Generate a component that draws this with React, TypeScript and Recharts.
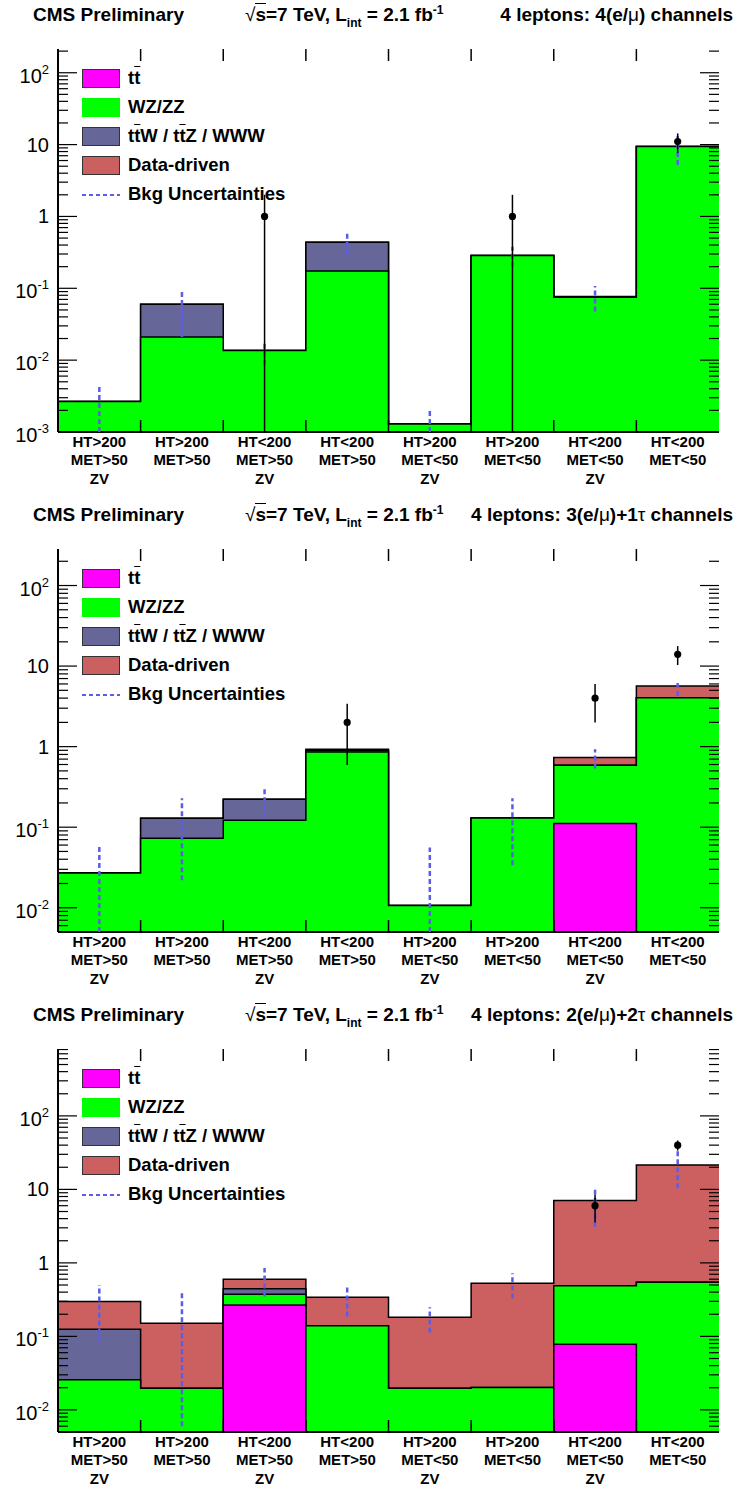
import { ComposedChart, Area, Scatter, XAxis, YAxis, Legend } from 'recharts';

const FONT = '"Liberation Sans", Arial, Helvetica, sans-serif';
const BLUE = '#5c5ce6';
const COLORS = { tt: '#ff00ff', wz: '#00ff00', ttw: '#666699', dd: '#cc6060' };
const FLOOR = 1e-9;

const binLabels = [
  ['HT>200', 'MET>50', 'ZV'],
  ['HT>200', 'MET>50'],
  ['HT<200', 'MET>50', 'ZV'],
  ['HT<200', 'MET>50'],
  ['HT>200', 'MET<50', 'ZV'],
  ['HT>200', 'MET<50'],
  ['HT<200', 'MET<50', 'ZV'],
  ['HT<200', 'MET<50'],
];

// 4(e/mu)
const ttbar4l = [0, 0, 0, 0, 0, 0, 0, 0];
const wz4l = [0.00265, 0.021, 0.0136, 0.174, 0.00129, 0.285, 0.075, 9.4];
const ttw4l = [0, 0.039, 0, 0.262, 0, 0, 0, 0];
const dd4l = [0, 0, 0, 0, 0, 0, 0.002, 0];
const uncLo4l = [0.0008, 0.021, 0.0086, 0.294, 0.0009, 0.2, 0.0475, 5.2];
const uncHi4l = [0.0044, 0.095, 0.018, 0.577, 0.002, 0.38, 0.108, 13.8];
const obs4l = [null, null, 1, null, null, 1, null, 11];
const obsLo4l = [null, null, 0, null, null, 0, null, 7.7];
const obsHi4l = [null, null, 2, null, null, 2, null, 14.3];

// 3(e/mu)+1tau
const ttbar3l = [0, 0, 0, 0, 0, 0, 0.111, 0];
const wz3l = [0.027, 0.073, 0.122, 0.855, 0.0107, 0.13, 0.478, 4.04];
const ttw3l = [0, 0.056, 0.101, 0.04, 0, 0, 0, 0];
const dd3l = [0, 0, 0, 0.035, 0, 0, 0.145, 1.6];
const uncLo3l = [0.004, 0.022, 0.129, null, 0.004, 0.0337, 0.536, 4.24];
const uncHi3l = [0.062, 0.229, 0.323, null, 0.056, 0.229, 0.93, 6.57];
const obs3l = [null, null, null, 2, null, null, 4, 14];
const obsLo3l = [null, null, null, 0.59, null, null, 2, 10.3];
const obsHi3l = [null, null, null, 3.41, null, null, 6, 17.7];

// 2(e/mu)+2tau
const ttbar2l = [0, 0, 0.268, 0, 0, 0, 0.078, 0];
const wz2l = [0.0256, 0.0197, 0.107, 0.139, 0.0197, 0.0201, 0.412, 0.546];
const ttw2l = [0.099, 0, 0.068, 0, 0, 0, 0, 0];
const dd2l = [0.173, 0.131, 0.157, 0.202, 0.162, 0.51, 6.55, 20.95];
const uncLo2l = [0.085, 0.006, 0.35, 0.186, 0.113, 0.33, 3.1, 10.4];
const uncHi2l = [0.5, 0.39, 0.85, 0.49, 0.25, 0.72, 10.9, 38.5];
const obs2l = [null, null, null, null, null, null, 6, 40];
const obsLo2l = [null, null, null, null, null, null, 3.55, 33.7];
const obsHi2l = [null, null, null, null, null, null, 8.45, 46.3];

const panels = [
  { chan: <>4(e/<Mu />) channels</>, yMin: 0.001, yMax: 214, tt: ttbar4l, wz: wz4l, ttw: ttw4l, dd: dd4l,
    uncLo: uncLo4l, uncHi: uncHi4l, obs: obs4l, obsLo: obsLo4l, obsHi: obsHi4l },
  { chan: <>3(e/<Mu />)+1<Tau /> channels</>, yMin: 0.005, yMax: 284, tt: ttbar3l, wz: wz3l, ttw: ttw3l, dd: dd3l,
    uncLo: uncLo3l, uncHi: uncHi3l, obs: obs3l, obsLo: obsLo3l, obsHi: obsHi3l },
  { chan: <>2(e/<Mu />)+2<Tau /> channels</>, yMin: 0.005, yMax: 813, tt: ttbar2l, wz: wz2l, ttw: ttw2l, dd: dd2l,
    uncLo: uncLo2l, uncHi: uncHi2l, obs: obs2l, obsLo: obsLo2l, obsHi: obsHi2l },
];

function Mu() {
  return <span style={{ fontWeight: 'normal' }}>μ</span>;
}
function Tau() {
  return <span style={{ fontWeight: 'normal' }}>τ</span>;
}
function Tbar() {
  return <span style={{ textDecoration: 'overline' }}>t</span>;
}

function YLabel({ x, y, payload }: any) {
  const e = Math.round(Math.log10(payload.value));
  if (e === 0 || e === 1) {
    return (
      <text x={x} y={y + 7} textAnchor="end" fontFamily={FONT} fontSize={20} fill="#000">
        {e === 0 ? '1' : '10'}
      </text>
    );
  }
  return (
    <text x={x} y={y + 10} textAnchor="end" fontFamily={FONT} fontSize={20} fill="#000">
      10<tspan dy={-9} fontSize={13}>{e}</tspan>
    </text>
  );
}

function XLabel({ x, y, payload }: any) {
  const lines = binLabels[Math.floor(payload.value)] || [];
  return (
    <g>
      {lines.map((t, i) => (
        <text key={i} x={x} y={y + 9 + i * 18.5} textAnchor="middle" dominantBaseline="central"
          fontFamily={FONT} fontWeight="bold" fontSize={15} fill="#000">{t}</text>
      ))}
    </g>
  );
}

const legendRows = [
  { key: 'tt', label: <>t<Tbar /></>, color: COLORS.tt, border: true },
  { key: 'wz', label: <>WZ/ZZ</>, color: COLORS.wz, border: false },
  { key: 'ttw', label: <>t<Tbar />W / t<Tbar />Z / WWW</>, color: COLORS.ttw, border: true },
  { key: 'dd', label: <>Data-driven</>, color: COLORS.dd, border: true },
  { key: 'unc', label: <>Bkg Uncertainties</>, color: null, border: false },
];

function LegendBody() {
  return (
    <div style={{ fontFamily: FONT, fontWeight: 'bold', fontSize: 18.5, color: '#000' }}>
      {legendRows.map(r => (
        <div key={r.key} style={{ display: 'flex', alignItems: 'center', height: 29 }}>
          {r.color ? (
            <div style={{ width: 38, height: 19, boxSizing: 'border-box', background: r.color,
              border: r.border ? '1px solid #333' : 'none' }} />
          ) : (
            <svg width={38} height={4}>
              <line x1={0} x2={38} y1={2} y2={2} stroke={BLUE} strokeWidth={2} strokeDasharray="4 3" />
            </svg>
          )}
          <span style={{ marginLeft: 8, lineHeight: 1 }}>{r.label}</span>
        </div>
      ))}
    </div>
  );
}

function logTicks(yMin: number, yMax: number) {
  const out: { y: number; major: boolean }[] = [];
  for (let d = Math.floor(Math.log10(yMin)); d <= Math.ceil(Math.log10(yMax)); d++) {
    for (let m = 1; m <= 9; m++) {
      const v = m * Math.pow(10, d);
      if (v >= yMin * 0.999 && v <= yMax * 1.001) out.push({ y: v, major: m === 1 });
    }
  }
  return out;
}

const none = () => <g />;

function Panel({ p, index }: any) {
  const { yMin, yMax } = p;
  const c0 = p.tt.map((v: number) => v);
  const c1 = c0.map((v: number, i: number) => v + p.wz[i]);
  const c2 = c1.map((v: number, i: number) => v + p.ttw[i]);
  const c3 = c2.map((v: number, i: number) => v + p.dd[i]);
  const pos = (v: number) => (v > 0 ? v : FLOOR);
  const rows = Array.from({ length: 9 }, (_, i) => {
    const b = Math.min(i, 7);
    return { x: i, c0: pos(c0[b]), c1: pos(c1[b]), c2: pos(c2[b]), c3: pos(c3[b]) };
  });
  const ticks = logTicks(yMin, yMax);
  const majors = ticks.filter(t => t.major).map(t => t.y);
  const leftTicks = ticks.map(t => ({ x: 0, y: t.y, major: t.major }));
  const rightTicks = ticks.map(t => ({ x: 8, y: t.y, major: t.major }));
  const edges = [1, 2, 3, 4, 5, 6, 7];
  const bottomTicks = edges.map(e => ({ x: e, y: yMin }));
  const topTicks = edges.map(e => ({ x: e, y: yMax }));
  const clamp = (v: number) => Math.min(Math.max(v, yMin), yMax);
  const obsPts = p.obs.map((v: any, i: number) => (v == null ? null : { x: i + 0.5, y: v })).filter(Boolean);

  const hTick = (dir: number) => (s: any) => (
    <line x1={s.cx} x2={s.cx + dir * (s.payload.major ? 19 : 10)} y1={s.cy} y2={s.cy} stroke="#000" strokeWidth={1.2} />
  );
  const vTick = (dir: number) => (s: any) => (
    <line x1={s.cx} x2={s.cx} y1={s.cy} y2={s.cy + dir * 12} stroke="#000" strokeWidth={1.5} />
  );

  return (
    <div style={{ position: 'absolute', left: 0, top: index * 500, width: 736, height: 500 }}>
      <ComposedChart width={736} height={495} data={rows} margin={{ top: 49, right: 17, bottom: 0, left: 0 }}>
        <XAxis dataKey="x" type="number" domain={[0, 8]} allowDataOverflow ticks={[0.5, 1.5, 2.5, 3.5, 4.5, 5.5, 6.5, 7.5]}
          interval={0} tickLine={false} tickSize={0} tickMargin={0} height={63} tick={<XLabel />}
          axisLine={{ stroke: '#000', strokeWidth: 2 }} />
        <XAxis xAxisId="top" orientation="top" type="number" domain={[0, 8]} height={0} tick={false} tickLine={false}
          axisLine={{ stroke: '#000', strokeWidth: 2 }} />
        <YAxis type="number" scale="log" domain={[yMin, yMax]} allowDataOverflow ticks={majors} interval={0}
          width={58} tickLine={false} tickSize={0} tickMargin={9} tick={<YLabel />}
          axisLine={{ stroke: '#000', strokeWidth: 2 }} />
        <YAxis yAxisId="right" orientation="right" type="number" scale="log" domain={[yMin, yMax]} width={0}
          tick={false} tickLine={false} axisLine={{ stroke: '#000', strokeWidth: 2 }} />

        <Area type="stepAfter" dataKey="c3" stroke="#000" strokeWidth={1.5} fill={COLORS.dd} fillOpacity={1}
          baseValue={yMin} dot={false} activeDot={false} isAnimationActive={false} />
        <Area type="stepAfter" dataKey="c2" stroke="#000" strokeWidth={1.5} fill={COLORS.ttw} fillOpacity={1}
          baseValue={yMin} dot={false} activeDot={false} isAnimationActive={false} />
        <Area type="stepAfter" dataKey="c1" stroke="#000" strokeWidth={1.5} fill={COLORS.wz} fillOpacity={1}
          baseValue={yMin} dot={false} activeDot={false} isAnimationActive={false} />
        <Area type="stepAfter" dataKey="c0" stroke="#000" strokeWidth={1.5} fill={COLORS.tt} fillOpacity={1}
          baseValue={yMin} dot={false} activeDot={false} isAnimationActive={false} />

        {p.uncLo.map((lo: any, i: number) => lo == null ? null : (
          <Scatter key={'u' + i} dataKey="y" data={[{ x: i + 0.5, y: clamp(lo) }, { x: i + 0.5, y: clamp(p.uncHi[i]) }]}
            line={{ stroke: BLUE, strokeWidth: 2.5, strokeDasharray: '5 3' }} shape={none} isAnimationActive={false} />
        ))}
        {p.obs.map((v: any, i: number) => v == null ? null : (
          <Scatter key={'e' + i} dataKey="y" data={[{ x: i + 0.5, y: clamp(p.obsLo[i] || FLOOR) }, { x: i + 0.5, y: clamp(p.obsHi[i]) }]}
            line={{ stroke: '#000', strokeWidth: 1.5 }} shape={none} isAnimationActive={false} />
        ))}
        <Scatter dataKey="y" data={obsPts} isAnimationActive={false}
          shape={(s: any) => <circle cx={s.cx} cy={s.cy} r={3.6} fill="#000" />} />

        <Scatter dataKey="y" data={leftTicks} shape={hTick(1)} isAnimationActive={false} />
        <Scatter dataKey="y" data={rightTicks} shape={hTick(-1)} isAnimationActive={false} />
        <Scatter dataKey="y" data={bottomTicks} shape={vTick(-1)} isAnimationActive={false} />
        <Scatter dataKey="y" data={topTicks} shape={vTick(1)} isAnimationActive={false} />

        <Legend layout="vertical" align="center" verticalAlign="middle"
          wrapperStyle={{ left: 82, top: 64, width: 320, height: 150 }} content={() => <LegendBody />} />
      </ComposedChart>
      <div style={{ position: 'absolute', top: 0, left: 0, width: 736, height: 32, fontFamily: FONT,
        fontWeight: 'bold', fontSize: 19, color: '#000', lineHeight: '30px', whiteSpace: 'nowrap' }}>
        <span style={{ position: 'absolute', left: 33 }}>CMS Preliminary</span>
        <span style={{ position: 'absolute', left: 245 }}>
          <span style={{ fontWeight: 'normal' }}>√</span><span style={{ borderTop: '1.5px solid #000' }}>s</span>=7 TeV, L
          <span style={{ fontSize: 12, position: 'relative', top: 6 }}>int</span> = 2.1 fb
          <span style={{ fontSize: 12, position: 'relative', top: -7 }}>-1</span>
        </span>
        <span style={{ position: 'absolute', right: 3 }}>4 leptons: {p.chan}</span>
      </div>
    </div>
  );
}

export default function App() {
  return (
    <div style={{ position: 'absolute', left: 0, top: 0, width: 736, height: 1485, background: '#fff' }}>
      {panels.map((p, i) => <Panel key={i} p={p} index={i} />)}
    </div>
  );
}
